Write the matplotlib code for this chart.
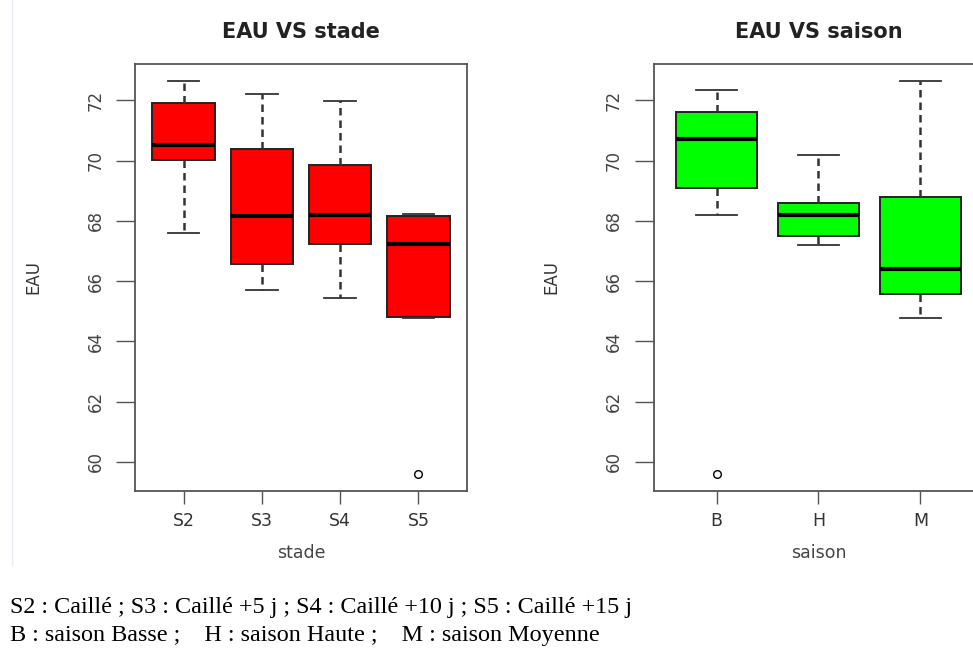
import matplotlib
matplotlib.use("Agg")
import matplotlib.pyplot as plt

# ---- data ----
stade_labels = ["S2", "S3", "S4", "S5"]
stade_whislo = [67.6, 65.7, 65.45, 64.76]
stade_q1 = [70.02, 66.58, 67.24, 64.82]
stade_med = [70.51, 68.15, 68.2, 67.23]
stade_q3 = [71.9, 70.38, 69.86, 68.17]
stade_whishi = [72.65, 72.23, 71.98, 68.22]
stade_fliers = [[], [], [], [59.58]]

saison_labels = ["B", "H", "M"]
saison_whislo = [68.19, 67.21, 64.76]
saison_q1 = [69.08, 67.5, 65.57]
saison_med = [70.73, 68.19, 66.39]
saison_q3 = [71.63, 68.6, 68.8]
saison_whishi = [72.35, 70.18, 72.65]
saison_fliers = [[59.58], [], []]

yticks = [60, 62, 64, 66, 68, 70, 72]
caption1 = "S2 : Caillé ; S3 : Caillé +5 j ; S4 : Caillé +10 j ; S5 : Caillé +15 j"
caption2 = "B : saison Basse ;    H : saison Haute ;    M : saison Moyenne"

W, H = 973, 648
fig = plt.figure(figsize=(W / 100, H / 100), dpi=100)
fig.patch.set_facecolor("white")

sans = ["DejaVu Sans"]


def make_stats(labels, lo, q1, med, q3, hi, fl):
    return [dict(label=l, whislo=a, q1=b, med=c, q3=d, whishi=e, fliers=f)
            for l, a, b, c, d, e, f in zip(labels, lo, q1, med, q3, hi, fl)]


def panel(rect, stats, color, title, xlabel):
    ax = fig.add_axes(rect)
    n = len(stats)
    ax.bxp(stats, positions=range(1, n + 1), widths=0.8, patch_artist=True,
           showfliers=True,
           boxprops=dict(facecolor=color, edgecolor="#222222", linewidth=1.4),
           medianprops=dict(color="black", linewidth=3),
           whiskerprops=dict(color="#333333", linewidth=1.8, linestyle=(0, (3, 2))),
           capprops=dict(color="#333333", linewidth=1.3),
           capwidths=0.4,
           flierprops=dict(marker="o", markersize=5.5, markerfacecolor="none",
                           markeredgecolor="black", markeredgewidth=1.0))
    ax.set_xlim(0.38, n + 0.62)
    ax.set_ylim(59.03, 73.21)
    ax.set_yticks(yticks)
    ax.set_yticklabels([str(t) for t in yticks], rotation=90, va="center",
                       fontsize=12, color="#444444", family=sans)
    ax.set_xticks(range(1, n + 1))
    ax.set_xticklabels([s["label"] for s in stats], fontsize=12.5,
                       color="#333333", family=sans)
    ax.tick_params(axis="y", length=14, width=1, color="#555555", pad=8)
    ax.tick_params(axis="x", length=9, width=1, color="#555555", pad=6)
    for sp in ax.spines.values():
        sp.set_color("#555555")
        sp.set_linewidth(1.3)
    ax.set_title(title, fontsize=15, fontweight="bold", family=sans,
                 color="#222222", pad=19)
    ax.set_xlabel(xlabel, fontsize=12.5, family=sans, color="#444444", labelpad=10)
    ax.set_ylabel("EAU", fontsize=12, family=sans, color="#333333", labelpad=32)
    return ax


bottom = (H - 491) / H
height = (491 - 64) / H
panel([135 / W, bottom, 332 / W, height],
      make_stats(stade_labels, stade_whislo, stade_q1, stade_med, stade_q3,
                 stade_whishi, stade_fliers),
      "#ff0000", "EAU VS stade", "stade")
panel([653.5 / W, bottom, 330 / W, height],
      make_stats(saison_labels, saison_whislo, saison_q1, saison_med, saison_q3,
                 saison_whishi, saison_fliers),
      "#00ff00", "EAU VS saison", "saison")

# faint image border on the left
fig.add_artist(plt.Line2D([12 / W, 12 / W], [(H - 565) / H, 1.0],
                          color="#e6ecf2", linewidth=1))

serif = ["Liberation Serif", "DejaVu Serif"]
fig.text(10 / W, (H - 607) / H, caption1, fontsize=17.4, family=serif,
         va="center", ha="left", color="black")
fig.text(10 / W, (H - 636) / H, caption2, fontsize=17.4, family=serif,
         va="center", ha="left", color="black")

fig.savefig("out.png", dpi=100, facecolor="white")
